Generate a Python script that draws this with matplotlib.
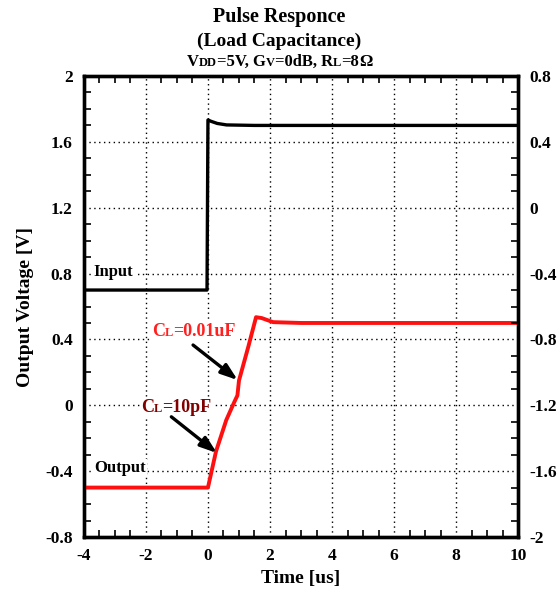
import matplotlib.pyplot as plt
from matplotlib.ticker import MultipleLocator
from matplotlib.offsetbox import TextArea, HPacker, AnchoredOffsetbox, AnnotationBbox

plt.rcParams['font.family'] = ['Liberation Serif', 'DejaVu Serif']
plt.rcParams['font.weight'] = 'bold'

# -----------------------------
# Data
# -----------------------------
t_input = [-4.0, -0.03, 0.0, 0.1, 0.3, 0.6, 1.5, 10.0]
v_input = [0.70, 0.70, 1.733, 1.725, 1.712, 1.703, 1.70, 1.70]

t_output = [-4.0, 0.0, 0.26, 0.59, 0.85, 0.95, 1.0, 1.3, 1.55, 1.73, 2.1, 3.0, 10.0]
v_output = [-0.50, -0.50, -0.28, -0.09, 0.02, 0.06, 0.15, 0.355, 0.535, 0.530, 0.505, 0.50, 0.50]

left_ticks = [-0.8, -0.4, 0, 0.4, 0.8, 1.2, 1.6, 2]
right_ticks = [-2, -1.6, -1.2, -0.8, -0.4, 0, 0.4, 0.8]
x_ticks = [-4, -2, 0, 2, 4, 6, 8, 10]


def fmt(v):
    return '%g' % v


def mixed_text(parts, color='black'):
    # small-caps style pieces, baseline aligned
    boxes = [TextArea(s, textprops=dict(size=sz, weight='bold', color=color,
                                        family='Liberation Serif'))
             for s, sz in parts]
    return HPacker(children=boxes, align='baseline', pad=0, sep=0)


# -----------------------------
# Figure
# -----------------------------
fig = plt.figure(figsize=(5.59, 5.94), dpi=100)
ax = fig.add_axes([0.150, 0.096, 0.777, 0.776])

ax.plot(t_input, v_input, color='black', lw=2.4, zorder=3)
ax.plot(t_output, v_output, color='#ff1010', lw=2.8, zorder=3)

ax.set_xlim(-4, 10)
ax.set_ylim(-0.8, 2)
ax.set_xticks(x_ticks)
ax.set_xticklabels([fmt(v) for v in x_ticks])
ax.set_yticks(left_ticks)
ax.set_yticklabels([fmt(v) for v in left_ticks])
ax.xaxis.set_minor_locator(MultipleLocator(0.5))
ax.yaxis.set_minor_locator(MultipleLocator(0.1))
ax.grid(True, which='major', color='black', linestyle=(0, (1, 2.5)), lw=1.0)
ax.tick_params(which='both', direction='in', top=True, right=False, width=1.2,
               labelsize=12.5, pad=8)
ax.tick_params(which='major', length=0)
ax.tick_params(which='minor', length=5)
for sp in ax.spines.values():
    sp.set_linewidth(2.4)

ax2 = ax.twinx()
ax2.set_ylim(-2, 0.8)
ax2.set_yticks(right_ticks)
ax2.set_yticklabels([fmt(v) for v in right_ticks])
ax2.yaxis.set_minor_locator(MultipleLocator(0.1))
ax2.tick_params(which='both', direction='in', labelsize=12.5, pad=8, width=1.2)
ax2.tick_params(which='major', length=0)
ax2.tick_params(which='minor', length=5)
for sp in ax2.spines.values():
    sp.set_linewidth(2.4)

ax.set_xlabel('Time [us]', fontsize=14, fontweight='bold', labelpad=4)
ax.set_ylabel('Output Voltage [V]', fontsize=14, fontweight='bold', labelpad=8)

# labels on the curves (white box hides the grid behind them)
white = dict(facecolor='white', edgecolor='none', pad=1)
ax.text(-3.68, 0.81, 'Input', fontsize=12, fontweight='bold', va='center',
        ha='left', zorder=6, bbox=white)
ax.text(-3.68, -0.38, 'Output', fontsize=12, fontweight='bold', va='center',
        ha='left', zorder=6, bbox=white)

lab1 = AnnotationBbox(mixed_text([('C', 13), ('L', 9), ('=0.01uF', 13)], '#ff2020'),
                      (-1.8, 0.447), xycoords='data', box_alignment=(0, 0.5),
                      frameon=True, pad=0.1, bboxprops=dict(fc='white', ec='none'),
                      zorder=6)
ax.add_artist(lab1)
lab2 = AnnotationBbox(mixed_text([('C', 13), ('L', 9), ('=10pF', 13)], '#800000'),
                      (-2.15, -0.015), xycoords='data', box_alignment=(0, 0.5),
                      frameon=True, pad=0.1, bboxprops=dict(fc='white', ec='none'),
                      zorder=6)
ax.add_artist(lab2)

arrow = dict(arrowstyle='-|>,head_length=1.0,head_width=0.35', color='black', lw=2.4,
             shrinkA=0, shrinkB=0)
ax.annotate('', xy=(0.96, 0.153), xytext=(-0.48, 0.366), arrowprops=arrow, zorder=7)
ax.annotate('', xy=(0.29, -0.29), xytext=(-1.18, -0.07), arrowprops=arrow, zorder=7)

# titles
fig.text(0.5, 0.972, 'Pulse Responce', ha='center', va='center',
         fontsize=14.5, fontweight='bold')
fig.text(0.5, 0.931, '(Load Capacitance)', ha='center', va='center',
         fontsize=14, fontweight='bold')
sub = mixed_text([('V', 12), ('DD', 9), ('=5V, G', 12), ('V', 9), ('=0dB, R', 12),
                  ('L', 9), ('=8', 12), ('\u03a9', 12)])
anch = AnchoredOffsetbox(loc='center', child=sub, pad=0, frameon=False,
                         bbox_to_anchor=(0.5, 0.895), bbox_transform=fig.transFigure,
                         borderpad=0)
fig.add_artist(anch)

fig.savefig('out.png', dpi=100)
